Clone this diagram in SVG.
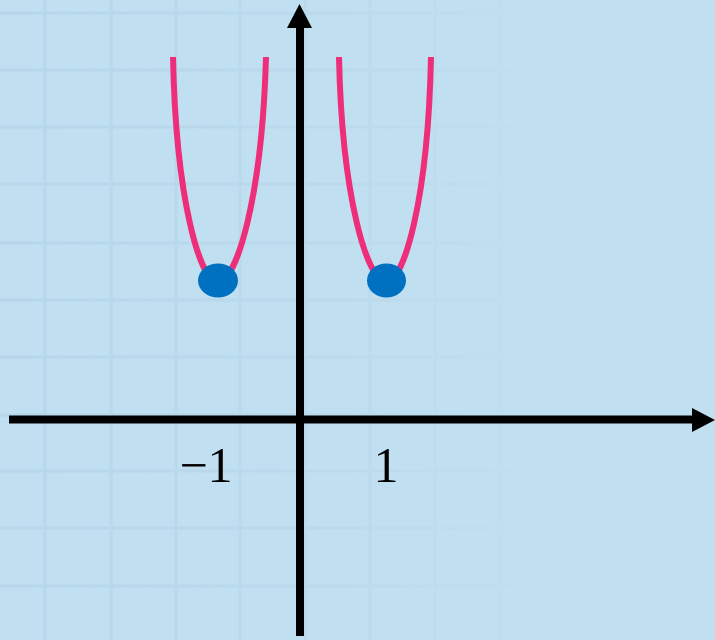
<svg xmlns="http://www.w3.org/2000/svg" width="715" height="640" viewBox="0 0 715 640">
  <defs>
    <style>
      .grid line { stroke: #b6d6ea; stroke-width: 3; }
      .axis { stroke: #000; stroke-width: 8; fill: none; }
      .curve { stroke: #ee2d7b; stroke-width: 6; fill: none; stroke-linecap: butt; }
      .dot { fill: #0071c1; }
      .lbl { font-family: "Liberation Serif", "DejaVu Serif", serif; font-size: 50px; fill: #000; text-anchor: middle; }
    </style>
    <linearGradient id="fade" x1="0" y1="0" x2="715" y2="0" gradientUnits="userSpaceOnUse">
      <stop offset="0" stop-color="#fff" stop-opacity="1"/>
      <stop offset="0.45" stop-color="#fff" stop-opacity="0.6"/>
      <stop offset="0.75" stop-color="#fff" stop-opacity="0"/>
    </linearGradient>
    <mask id="gridMask" maskUnits="userSpaceOnUse" x="0" y="0" width="715" height="640">
      <rect x="0" y="0" width="715" height="640" fill="url(#fade)"/>
    </mask>
  </defs>
  <rect x="0" y="0" width="715" height="640" fill="#c0dff0"/>
  <g id="grid" class="grid" mask="url(#gridMask)">
    <line x1="45" y1="0" x2="45" y2="640"/>
    <line x1="111" y1="0" x2="111" y2="640"/>
    <line x1="176" y1="0" x2="176" y2="640"/>
    <line x1="240" y1="0" x2="240" y2="640"/>
    <line x1="305" y1="0" x2="305" y2="640"/>
    <line x1="370" y1="0" x2="370" y2="640"/>
    <line x1="435" y1="0" x2="435" y2="640"/>
    <line x1="500" y1="0" x2="500" y2="640"/>
    <line x1="0" y1="13" x2="715" y2="13"/>
    <line x1="0" y1="70" x2="715" y2="70"/>
    <line x1="0" y1="127" x2="715" y2="127"/>
    <line x1="0" y1="184" x2="715" y2="184"/>
    <line x1="0" y1="243" x2="715" y2="243"/>
    <line x1="0" y1="300" x2="715" y2="300"/>
    <line x1="0" y1="357" x2="715" y2="357"/>
    <line x1="0" y1="415" x2="715" y2="415"/>
    <line x1="0" y1="471" x2="715" y2="471"/>
    <line x1="0" y1="528" x2="715" y2="528"/>
    <line x1="0" y1="586" x2="715" y2="586"/>
  </g>
  <g id="connectors">
    <line class="axis" x1="9" y1="419.5" x2="694" y2="419.5"/>
    <polygon points="692,408 715,420 692,432" fill="#000"/>
    <line class="axis" x1="300" y1="636" x2="300" y2="26"/>
    <polygon points="287,28 299.5,4 312,28" fill="#000"/>
  </g>
  <g id="curve-left">
    <path class="curve" d="M173,57 C176,200 200,282 218,282 C236,282 262,200 266,57"/>
  </g>
  <g id="curve-right">
    <path class="curve" d="M339,57 C342,200 368,282 386,282 C404,282 428,200 431,57"/>
  </g>
  <g id="dot-left"><ellipse class="dot" cx="218" cy="280.5" rx="20" ry="17"/></g>
  <g id="dot-right"><ellipse class="dot" cx="386.5" cy="280.5" rx="19.5" ry="17"/></g>
  <g id="label-neg1"><text class="lbl" x="206" y="482">−1</text></g>
  <g id="label-1"><text class="lbl" x="386" y="482">1</text></g>
</svg>
